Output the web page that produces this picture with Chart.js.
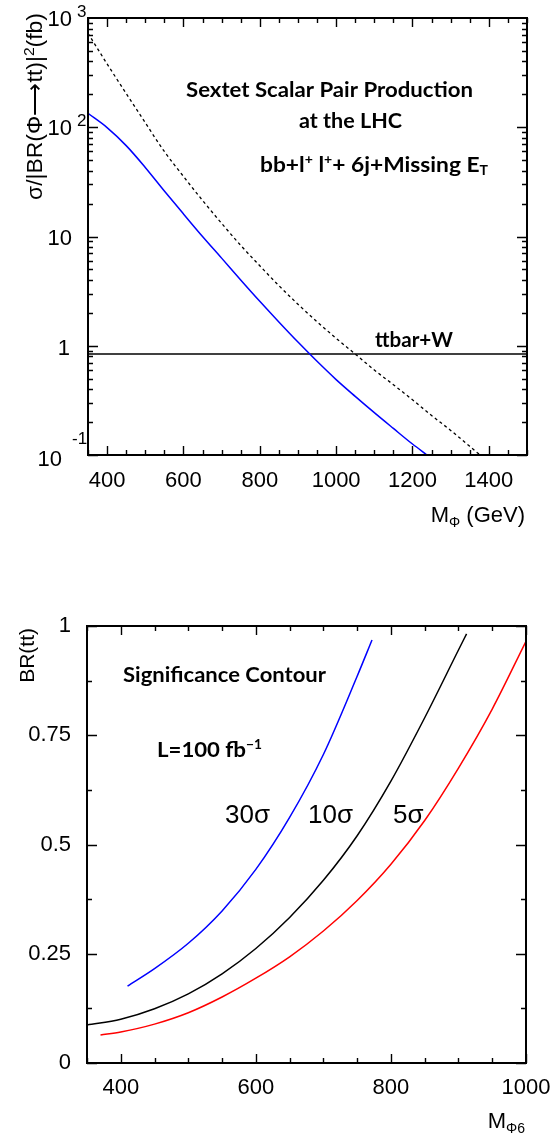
<!DOCTYPE html>
<html>
<head>
<meta charset="utf-8">
<script src="https://cdn.jsdelivr.net/npm/chart.js@4.4.0/dist/chart.umd.min.js"></script>
<style>
  html, body { margin: 0; padding: 0; background: #fff; }
  #wrap { position: relative; width: 553px; height: 1143px; }
  canvas { position: absolute; left: 0; }
  #top { top: 0; }
  #bottom { top: 590px; }
</style>
</head>
<body>
<div id="wrap">
  <canvas id="top" width="553" height="545"></canvas>
  <canvas id="bottom" width="553" height="553"></canvas>
</div>
<script>
// Upper panel: sigma/|BR|^2 (fb) vs M_phi (GeV)
const massSignal = [350, 400, 450, 500, 550, 600, 650, 700, 750, 800, 850, 900, 950, 1000, 1050, 1100, 1150, 1200, 1238];
const sigmaSignal = [134, 99.3, 67.9, 42.9, 26.1, 16.1, 10.0, 6.34, 4.0, 2.55, 1.65, 1.08, 0.72, 0.49, 0.344, 0.244, 0.175, 0.126, 0.1];
const massDotted = [350, 400, 450, 500, 550, 600, 650, 700, 750, 800, 850, 900, 950, 1000, 1050, 1100, 1150, 1200, 1250, 1300, 1350, 1377];
const sigmaDotted = [725, 380, 204, 110, 60, 35.5, 21.4, 13.2, 8.3, 5.4, 3.55, 2.4, 1.66, 1.17, 0.84, 0.60, 0.44, 0.32, 0.23, 0.168, 0.12, 0.1];
const ttbarW = 0.84;
const topXTicks = [400, 600, 800, 1000, 1200, 1400];
const topYTicks = [0.1, 1, 10, 100, 1000];

// Lower panel: significance contours, BR(tt) vs M_phi6
const mass30 = [410, 450, 500, 550, 600, 650, 700, 750, 772];
const br30 = [0.176, 0.216, 0.274, 0.348, 0.443, 0.562, 0.706, 0.885, 0.968];
const mass10 = [350, 400, 450, 500, 550, 600, 650, 700, 750, 800, 850, 900, 912];
const br10 = [0.087, 0.1, 0.124, 0.158, 0.204, 0.262, 0.333, 0.418, 0.52, 0.645, 0.79, 0.945, 0.982];
const mass5 = [370, 400, 450, 500, 550, 600, 650, 700, 750, 800, 850, 900, 950, 1000];
const br5 = [0.064, 0.071, 0.089, 0.115, 0.151, 0.194, 0.243, 0.302, 0.372, 0.455, 0.555, 0.675, 0.81, 0.965];
const botXTicks = [400, 600, 800, 1000];
const botYTicks = [0, 0.25, 0.5, 0.75, 1];

const SANS = '"Liberation Sans", Arial, sans-serif';
const GEO = 'Lato, "DejaVu Sans", sans-serif';

const pts = (xs, ys) => xs.map((x, i) => ({ x: x, y: ys[i] }));

function fixSize(size, horizontal) {
    return scale => {
        if (horizontal) scale.height = size; else scale.width = size;
        scale.paddingLeft = scale.paddingRight = scale.paddingTop = scale.paddingBottom = 0;
    };
}

// text made of pieces: [text, sizeFactor, dy]; fitW stretches it to a width
function rich(ctx, x, y, parts, size, family, weight, align, fitW) {
    const fontOf = p => `${weight || 'normal'} ${Math.round(size * (p[1] || 1))}px ${family}`;
    let w = 0;
    parts.forEach(p => { ctx.font = fontOf(p); w += ctx.measureText(p[0]).width; });
    const sx = fitW ? fitW / w : 1;
    const total = w * sx;
    const start = align === 'right' ? x - total : (align === 'center' ? x - total / 2 : x);
    ctx.save();
    ctx.translate(start, y);
    ctx.scale(sx, 1);
    ctx.textAlign = 'left';
    ctx.textBaseline = 'alphabetic';
    let cx = 0;
    parts.forEach(p => {
        ctx.font = fontOf(p);
        ctx.fillText(p[0], cx, p[2] || 0);
        cx += ctx.measureText(p[0]).width;
    });
    ctx.restore();
}

// frame plus inward ticks on all four sides
function frame(cfg) {
    return {
        id: 'frame',
        afterDatasetsDraw(chart) {
            const { ctx, chartArea: a, scales: { x, y } } = chart;
            ctx.save();
            ctx.strokeStyle = '#000';
            ctx.lineWidth = 1.4;
            ctx.beginPath();
            const tx = (v, len) => {
                const px = Math.round(x.getPixelForValue(v)) + 0.5;
                ctx.moveTo(px, a.bottom); ctx.lineTo(px, a.bottom - len);
                ctx.moveTo(px, a.top); ctx.lineTo(px, a.top + len);
            };
            const ty = (v, len) => {
                const py = Math.round(y.getPixelForValue(v)) + 0.5;
                ctx.moveTo(a.left, py); ctx.lineTo(a.left + len, py);
                ctx.moveTo(a.right, py); ctx.lineTo(a.right - len, py);
            };
            for (let v = x.min; v <= x.max; v += cfg.xMinor) {
                tx(v, cfg.xMajorSet.includes(v) ? 9 : 5);
            }
            if (cfg.log) {
                for (let d = y.min; d < y.max; d *= 10) {
                    ty(d, 10);
                    for (let k = 2; k <= 9; k++) ty(d * k, 5);
                }
            } else {
                for (let v = y.min; v <= y.max + 1e-9; v += cfg.yMinor) {
                    const major = cfg.yMajorSet.some(m => Math.abs(m - v) < 1e-6);
                    ty(v, major ? 10 : 5);
                }
            }
            ctx.stroke();
            ctx.lineWidth = 2;
            ctx.strokeRect(a.left, a.top, a.width, a.height);
            ctx.restore();
        }
    };
}

const lineStyle = (color, extra) => Object.assign({
    borderColor: color, borderWidth: 1.5, pointRadius: 0,
    cubicInterpolationMode: 'monotone', fill: false
}, extra || {});

// ---------- upper chart ----------
const topLabels = {
    id: 'topLabels',
    afterDraw(chart) {
        const { ctx, scales: { y } } = chart;
        ctx.save();
        ctx.fillStyle = '#000';
        // log axis labels with exponents
        topYTicks.forEach(v => {
            const py = y.getPixelForValue(v);
            if (v === 1) {
                rich(ctx, 70, py + 9, [['1']], 22, SANS, 'normal', 'right');
            } else if (v === 10) {
                rich(ctx, 72, py + 8, [['10']], 22, SANS, 'normal', 'right');
            } else if (v === 0.1) {
                rich(ctx, 62, py + 11, [['10']], 22, SANS, 'normal', 'right');
                rich(ctx, 72, py - 11, [['-1']], 17, SANS, 'normal', 'left');
            } else {
                rich(ctx, 72, py + 8, [['10']], 22, SANS, 'normal', 'right');
                rich(ctx, 77, py - 1, [[String(Math.round(Math.log10(v)))]], 17, SANS, 'normal', 'left');
            }
        });
        // axis titles
        ctx.save();
        ctx.translate(42, 13);
        ctx.rotate(-Math.PI / 2);
        rich(ctx, 0, 0, [['σ/|BR(Φ'], ['⟶'], ['tt)|'], ['2', 0.7, -8], ['(fb)']], 22, SANS, 'normal', 'right', 187);
        ctx.restore();
        rich(ctx, 525, 522, [['M'], ['Φ', 0.62, 5], [' (GeV)']], 22, SANS, 'normal', 'right');
        // annotations
        rich(ctx, 186, 97, [['Sextet Scalar Pair Production']], 21, GEO, 'bold', 'left', 287);
        rich(ctx, 299, 128, [['at the LHC']], 21, GEO, 'bold', 'left', 103);
        rich(ctx, 260, 172, [['bb+l'], ['+', 0.6, -8], [' l'], ['+', 0.6, -8], ['+ 6j+Missing E'], ['T', 0.6, 3]], 21, GEO, 'bold', 'left', 228);
        rich(ctx, 375, 347, [['ttbar+W']], 21, GEO, 'bold', 'left', 78);
        ctx.restore();
    }
};

new Chart(document.getElementById('top'), {
    type: 'line',
    data: {
        datasets: [
            lineStyle('#0000ff', { data: pts(massSignal, sigmaSignal) }),
            lineStyle('#000000', { data: pts(massDotted, sigmaDotted), borderWidth: 1.3, borderDash: [3, 3] }),
            lineStyle('#000000', { data: [{ x: 350, y: ttbarW }, { x: 1500, y: ttbarW }] })
        ]
    },
    options: {
        responsive: false,
        animation: false,
        layout: { padding: { top: 18, right: 26, left: 0, bottom: 0 } },
        plugins: { legend: { display: false }, tooltip: { enabled: false } },
        scales: {
            x: {
                type: 'linear', min: 350, max: 1500,
                grid: { display: false, drawTicks: false }, border: { display: false },
                afterBuildTicks: s => { s.ticks = topXTicks.map(v => ({ value: v })); },
                afterFit: fixSize(90, true),
                ticks: { color: '#000', font: { family: SANS, size: 22 }, padding: 13, maxRotation: 0, autoSkip: false, callback: v => String(v) }
            },
            y: {
                type: 'logarithmic', min: 0.1, max: 1000,
                grid: { display: false, drawTicks: false }, border: { display: false },
                ticks: { display: false },
                afterFit: fixSize(88, false)
            }
        }
    },
    plugins: [frame({ xMinor: 50, xMajorSet: topXTicks, log: true }), topLabels]
});

// ---------- lower chart ----------
const bottomLabels = {
    id: 'bottomLabels',
    afterDraw(chart) {
        const { ctx } = chart;
        ctx.save();
        ctx.fillStyle = '#000';
        ctx.save();
        ctx.translate(34, 38);
        ctx.rotate(-Math.PI / 2);
        rich(ctx, 0, 0, [['BR(tt)']], 21, SANS, 'normal', 'right');
        ctx.restore();
        rich(ctx, 525, 538, [['M'], ['Φ6', 0.62, 5]], 22, SANS, 'normal', 'right');
        rich(ctx, 123, 92, [['Significance Contour']], 21, GEO, 'bold', 'left', 203);
        rich(ctx, 157, 167, [['L=100 fb'], ['−1', 0.6, -8]], 21, GEO, 'bold', 'left', 105);
        rich(ctx, 225, 233, [['30σ']], 26, SANS, 'normal', 'left');
        rich(ctx, 308, 233, [['10σ']], 26, SANS, 'normal', 'left');
        rich(ctx, 393, 233, [['5σ']], 26, SANS, 'normal', 'left');
        ctx.restore();
    }
};

new Chart(document.getElementById('bottom'), {
    type: 'line',
    data: {
        datasets: [
            lineStyle('#0000ff', { data: pts(mass30, br30) }),
            lineStyle('#000000', { data: pts(mass10, br10) }),
            lineStyle('#ff0000', { data: pts(mass5, br5) })
        ]
    },
    options: {
        responsive: false,
        animation: false,
        layout: { padding: { top: 36, right: 27, left: 0, bottom: 0 } },
        plugins: { legend: { display: false }, tooltip: { enabled: false } },
        scales: {
            x: {
                type: 'linear', min: 350, max: 1000,
                grid: { display: false, drawTicks: false }, border: { display: false },
                afterBuildTicks: s => { s.ticks = botXTicks.map(v => ({ value: v })); },
                afterFit: fixSize(80, true),
                ticks: { color: '#000', font: { family: SANS, size: 22 }, padding: 12, maxRotation: 0, autoSkip: false, callback: v => String(v) }
            },
            y: {
                type: 'linear', min: 0, max: 1,
                grid: { display: false, drawTicks: false }, border: { display: false },
                afterBuildTicks: s => { s.ticks = botYTicks.map(v => ({ value: v })); },
                afterFit: fixSize(87, false),
                ticks: { color: '#000', font: { family: SANS, size: 22 }, padding: 16, autoSkip: false, callback: v => String(v) }
            }
        }
    },
    plugins: [frame({ xMinor: 50, xMajorSet: botXTicks, yMinor: 0.125, yMajorSet: botYTicks }), bottomLabels]
});
</script>
</body>
</html>
